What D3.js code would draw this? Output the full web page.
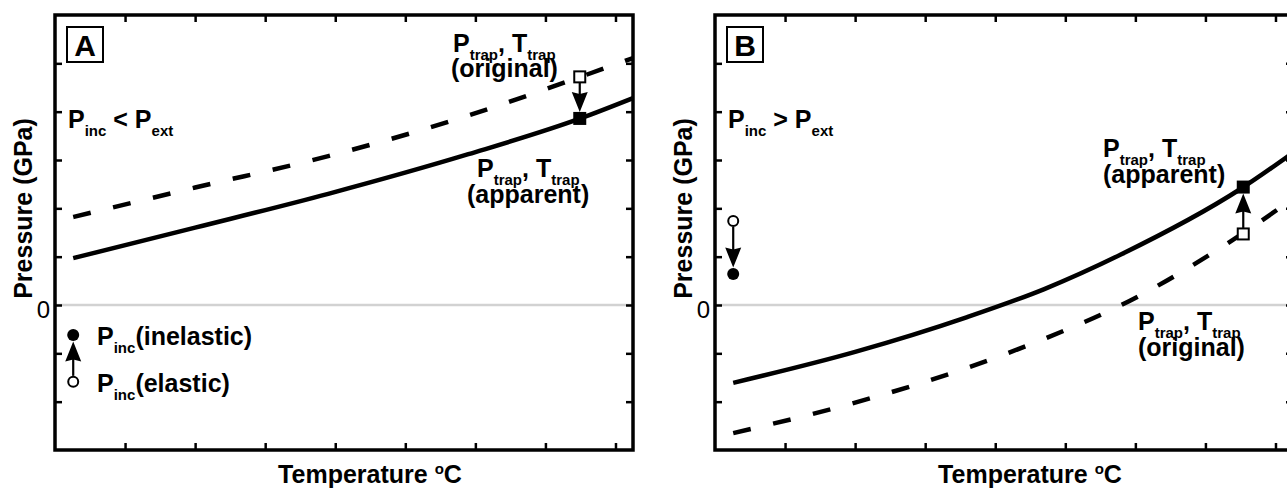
<!DOCTYPE html>
<html>
<head>
<meta charset="utf-8">
<script src="https://cdn.jsdelivr.net/npm/d3@7"></script>
<style>
  html, body { margin: 0; padding: 0; background: #fff; }
  svg { display: block; }
  text { font-family: "Liberation Sans", Arial, Helvetica, sans-serif; white-space: pre; }
</style>
</head>
<body>
<div id="chart"></div>
<script>
// curve values (temperature is unitless, no labels)
const tempA = [0.26, 2.0, 3.9, 5.9, 7.5, 8.25];
const apparentA = [0.97, 1.60, 2.30, 3.12, 3.86, 4.28];
const originalA = [1.82, 2.43, 3.08, 3.92, 4.72, 5.11];

const tempB = [0.26, 2.0, 3.6, 4.7, 5.8, 7.5, 8.25];
const apparentB = [-1.61, -0.97, -0.25, 0.33, 1.05, 2.40, 3.15];
const originalB = [-2.65, -2.02, -1.30, -0.70, 0.0, 1.45, 2.20];

// inclusion pressure markers [temp, elastic, inelastic]
const incA = [0.26, -1.59, -0.62];
const incB = [0.26, 1.74, 0.64];
// trapping markers [temp, original, apparent]
const trapA = [7.49, 4.72, 3.86];
const trapB = [7.54, 1.47, 2.44];

const xTicks = [1, 2, 3, 4, 5, 6, 7, 8];
const yTicks = [-2, -1, 0, 1, 2, 3, 4, 5];
const xDomain = [0, 8.25];
const yDomain = [-3, 6];

const width = 1287, height = 488;
const innerW = 578, innerH = 435, panelTop = 15;

const svg = d3.select("#chart")
  .append("svg")
  .attr("width", width)
  .attr("height", height);

const x = d3.scaleLinear().domain(xDomain).range([0, innerW]);
const y = d3.scaleLinear().domain(yDomain).range([innerH, 0]);

function rich(g, px, py, parts) {
  const t = g.append("text")
    .attr("x", px).attr("y", py)
    .attr("font-weight", "bold")
    .attr("font-size", 25);
  let shifted = false;
  parts.forEach(p => {
    const sub = p[1] === true;
    const ts = t.append("tspan").text(p[0]);
    if (sub && !shifted) { ts.attr("dy", 8); shifted = true; }
    else if (!sub && shifted) { ts.attr("dy", -8); shifted = false; }
    if (sub) ts.attr("font-size", 15);
  });
  return t;
}

function arrow(g, x1, y1, x2, y2) {
  const a = Math.atan2(y2 - y1, x2 - x1);
  const len = 20, hw = 8;
  const bx = x2 - Math.cos(a) * len, by = y2 - Math.sin(a) * len;
  g.append("line")
    .attr("x1", x1).attr("y1", y1)
    .attr("x2", bx + Math.cos(a) * 4).attr("y2", by + Math.sin(a) * 4)
    .attr("stroke", "#000").attr("stroke-width", 2.2);
  g.append("path")
    .attr("d", "M" + x2 + "," + y2 +
      "L" + (bx - Math.sin(a) * hw) + "," + (by + Math.cos(a) * hw) +
      "L" + (bx + Math.cos(a) * 2) + "," + (by + Math.sin(a) * 2) +
      "L" + (bx + Math.sin(a) * hw) + "," + (by - Math.cos(a) * hw) + "Z")
    .attr("fill", "#000");
}

function drawPanel(left, cfg) {
  const g = svg.append("g").attr("transform", "translate(" + left + "," + panelTop + ")");

  // zero line
  g.append("line")
    .attr("x1", 0).attr("x2", innerW)
    .attr("y1", y(0)).attr("y2", y(0))
    .attr("stroke", "#d2d2d2")
    .attr("stroke-width", 2.5);

  const line = d3.line()
    .x(d => x(d[0]))
    .y(d => y(d[1]))
    .curve(d3.curveMonotoneX);

  g.append("path")
    .datum(d3.zip(cfg.temp, cfg.original))
    .attr("d", line)
    .attr("fill", "none")
    .attr("stroke", "#000")
    .attr("stroke-width", 4.5)
    .attr("stroke-dasharray", "18,23");

  g.append("path")
    .datum(d3.zip(cfg.temp, cfg.apparent))
    .attr("d", line)
    .attr("fill", "none")
    .attr("stroke", "#000")
    .attr("stroke-width", 4.5);

  // axes with inward ticks
  const axes = [
    [d3.axisTop(x).tickValues(xTicks), 0, 0],
    [d3.axisBottom(x).tickValues(xTicks), 0, innerH],
    [d3.axisRight(y).tickValues(yTicks), innerW, 0],
    [d3.axisLeft(y).tickValues(yTicks).tickPadding(5), 0, 0]
  ];
  axes.forEach((a, i) => {
    const ax = a[0].tickSizeInner(-7).tickSizeOuter(0)
      .tickFormat(i === 3 ? (d => d === 0 ? "0" : "") : "");
    const ag = g.append("g")
      .attr("transform", "translate(" + a[1] + "," + a[2] + ")")
      .call(ax);
    ag.select(".domain").remove();
    ag.selectAll(".tick line").attr("stroke", "#000").attr("stroke-width", 2.5);
    ag.selectAll(".tick text")
      .attr("font-size", 24)
      .attr("fill", "#000")
      .attr("dy", "0.5em")
      .style("font-family", "'Liberation Sans', Arial, sans-serif");
  });

  g.append("rect")
    .attr("width", innerW).attr("height", innerH)
    .attr("fill", "none")
    .attr("stroke", "#000")
    .attr("stroke-width", 3.5);

  // panel letter
  g.append("rect")
    .attr("x", 12).attr("y", 12)
    .attr("width", 36).attr("height", 35)
    .attr("fill", "#fff")
    .attr("stroke", "#000")
    .attr("stroke-width", 2);
  g.append("text")
    .attr("x", 30).attr("y", 40.5)
    .attr("text-anchor", "middle")
    .attr("font-size", 30)
    .attr("font-weight", "bold")
    .text(cfg.letter);

  // inclusion markers
  const ix = x(cfg.inc[0]);
  const yEl = y(cfg.inc[1]), yIn = y(cfg.inc[2]);
  const dir = yIn < yEl ? 1 : -1;
  arrow(g, ix, yEl - dir * 6, ix, yIn + dir * 6.5);
  g.append("circle").attr("cx", ix).attr("cy", yEl).attr("r", 5)
    .attr("fill", "#fff").attr("stroke", "#000").attr("stroke-width", 2);
  g.append("circle").attr("cx", ix).attr("cy", yIn).attr("r", 6)
    .attr("fill", "#000");

  // trapping markers
  const tx = x(cfg.trap[0]);
  const yOr = y(cfg.trap[1]), yAp = y(cfg.trap[2]);
  const tdir = yAp < yOr ? 1 : -1;
  arrow(g, tx, yOr - tdir * 6, tx, yAp + tdir * 6.5);
  g.append("rect").attr("x", tx - 5.5).attr("y", yOr - 5.5)
    .attr("width", 11).attr("height", 11)
    .attr("fill", "#fff").attr("stroke", "#000").attr("stroke-width", 2);
  g.append("rect").attr("x", tx - 6.5).attr("y", yAp - 6.5)
    .attr("width", 13).attr("height", 13)
    .attr("fill", "#000");

  // axis titles
  g.append("text")
    .attr("transform", "translate(-23," + 193.5 + ") rotate(-90)")
    .attr("text-anchor", "middle")
    .attr("font-size", 25)
    .attr("font-weight", "bold")
    .text("Pressure (GPa)");
  const xt = g.append("text")
    .attr("x", 315).attr("y", 468)
    .attr("text-anchor", "middle")
    .attr("font-size", 25)
    .attr("font-weight", "bold");
  xt.append("tspan").text("Temperature ");
  xt.append("tspan").attr("font-size", 15).attr("dy", -9).text("o");
  xt.append("tspan").attr("dy", 9).text("C");

  cfg.notes(g);
}

drawPanel(55, {
  letter: "A",
  temp: tempA, apparent: apparentA, original: originalA,
  inc: incA, trap: trapA,
  notes: g => {
    rich(g, 13, 113, [["P"], ["inc", true], [" < P"], ["ext", true]]);
    rich(g, 398, 37, [["P"], ["trap", true], [", T"], ["trap", true]]);
    rich(g, 396, 62, [["(original)"]]);
    rich(g, 422, 162, [["P"], ["trap", true], [", T"], ["trap", true]]);
    rich(g, 412, 188, [["(apparent)"]]);
    rich(g, 42, 330, [["P"], ["inc", true], ["(inelastic)"]]);
    rich(g, 42, 377, [["P"], ["inc", true], ["(elastic)"]]);
  }
});

drawPanel(715, {
  letter: "B",
  temp: tempB, apparent: apparentB, original: originalB,
  inc: incB, trap: trapB,
  notes: g => {
    rich(g, 13, 113, [["P"], ["inc", true], [" > P"], ["ext", true]]);
    rich(g, 388, 142, [["P"], ["trap", true], [", T"], ["trap", true]]);
    rich(g, 388, 168, [["(apparent)"]]);
    rich(g, 423, 315, [["P"], ["trap", true], [", T"], ["trap", true]]);
    rich(g, 423, 341, [["(original)"]]);
  }
});
</script>
</body>
</html>
